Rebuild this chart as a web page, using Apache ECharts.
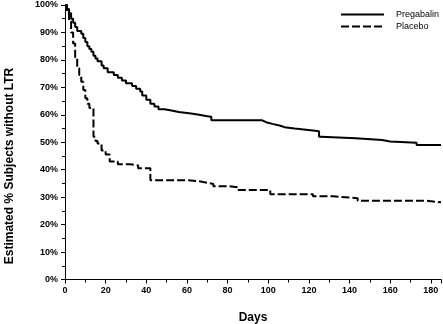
<!DOCTYPE html>
<html>
<head>
<meta charset="utf-8">
<script src="https://cdn.jsdelivr.net/npm/echarts@6/dist/echarts.min.js"></script>
<style>
  html, body { margin: 0; padding: 0; background: #fff; }
  #chart { width: 443px; height: 324px; }
</style>
</head>
<body>
<div id="chart"></div>
<script>
// Kaplan-Meier style survival estimates: [day, % subjects without LTR]
const pregabalin = [
  [0, 100], [1, 98.5], [2, 97], [3, 95], [4, 93.5], [5, 92], [6, 90.5], [8, 89.5],
  [9, 88], [10, 86.5], [11, 85], [12, 84], [13, 83], [14, 81.5], [15, 80.5], [16, 79.5],
  [18, 78], [19, 77], [21, 75.5], [24, 74.5], [26, 73.5], [28, 72.5], [30, 71.5],
  [33, 70.5], [35, 69.5], [37, 68.5], [38, 67], [40, 65.5], [42, 64], [44, 63], [46, 62],
  [49, 61.5], [53, 61], [56, 60.5], [62, 60], [66, 59.5], [70, 59.3], [72, 58],
  [97, 57.3], [99, 56.7], [102, 56], [106, 55.5], [108, 55], [113, 54.3], [122, 54],
  [125, 52], [126, 51.5], [143, 50.8], [156, 50.3], [160, 49.8], [173, 49], [185, 49]
];
const placebo = [
  [0, 100], [1, 97], [2, 94], [3, 90], [4, 86], [5, 81], [6, 77], [7, 74.5], [8, 72],
  [9, 69], [10, 66], [11, 64], [12, 62.5], [14, 52], [15, 50.5], [16, 49.5], [18, 47],
  [20, 45.5], [22, 43], [26, 42], [32, 41.5], [36, 40.5], [42, 36.2], [60, 35.8],
  [66, 35.5], [68, 34.8], [73, 34], [81, 33.6], [85, 32.6], [101, 31.1], [122, 30.3],
  [132, 29.6], [144, 28.7], [178, 28.1], [185, 28.1]
];
const seriesNames = ['Pregabalin', 'Placebo'];
const xTitle = 'Days';
const yTitle = 'Estimated % Subjects without LTR';

const chart = echarts.init(document.getElementById('chart'), null, { renderer: 'canvas' });
const axisFont = { fontFamily: 'Liberation Sans, Arial, sans-serif', fontWeight: 'bold', fontSize: 9, color: '#000' };

chart.setOption({
  animation: false,
  backgroundColor: '#fff',
  grid: { left: 65, right: 2, top: 5, bottom: 44.5, outerBoundsMode: 'none', containLabel: false },
  legend: {
    orient: 'vertical',
    left: 340,
    top: 10,
    padding: 0,
    itemWidth: 43,
    itemHeight: 9,
    itemGap: 3,
    itemStyle: { opacity: 0 },
    textStyle: { fontFamily: 'Liberation Sans, Arial, sans-serif', fontSize: 9, color: '#000', padding: [0, 0, 0, 7] },
    data: seriesNames
  },
  xAxis: {
    type: 'value',
    min: 0, max: 185, interval: 20,
    name: xTitle,
    nameLocation: 'middle',
    nameGap: 32,
    nameTextStyle: { fontFamily: 'Liberation Sans, Arial, sans-serif', fontWeight: 'bold', fontSize: 12, color: '#000' },
    axisLine: { lineStyle: { color: '#000', width: 1 } },
    axisTick: { show: true, length: 4, lineStyle: { color: '#000' } },
    minorTick: { show: true, splitNumber: 2, length: 3, lineStyle: { color: '#000' } },
    axisLabel: Object.assign({ margin: 7 }, axisFont),
    splitLine: { show: false }
  },
  yAxis: {
    type: 'value',
    min: 0, max: 100, interval: 10,
    axisLine: { show: true, lineStyle: { color: '#000', width: 1 } },
    axisTick: { show: true, length: 4, lineStyle: { color: '#000' } },
    minorTick: { show: true, splitNumber: 2, length: 3, lineStyle: { color: '#000' } },
    axisLabel: Object.assign({ margin: 7, formatter: '{value}%' }, axisFont),
    splitLine: { show: false }
  },
  graphic: [{
    type: 'text',
    x: 10, y: 166,
    rotation: Math.PI / 2,
    style: {
      text: yTitle,
      fontFamily: 'Liberation Sans, Arial, sans-serif',
      fontWeight: 'bold',
      fontSize: 12,
      fill: '#000',
      align: 'center',
      verticalAlign: 'middle'
    }
  }],
  series: [
    {
      name: seriesNames[0],
      type: 'line',
      step: 'end',
      symbol: 'none',
      data: pregabalin,
      lineStyle: { color: '#000', width: 2, type: 'solid' },
      itemStyle: { color: '#000' }
    },
    {
      name: seriesNames[1],
      type: 'line',
      step: 'end',
      symbol: 'none',
      data: placebo,
      lineStyle: { color: '#000', width: 2, type: [8, 3] },
      itemStyle: { color: '#000' }
    }
  ]
});
</script>
</body>
</html>
